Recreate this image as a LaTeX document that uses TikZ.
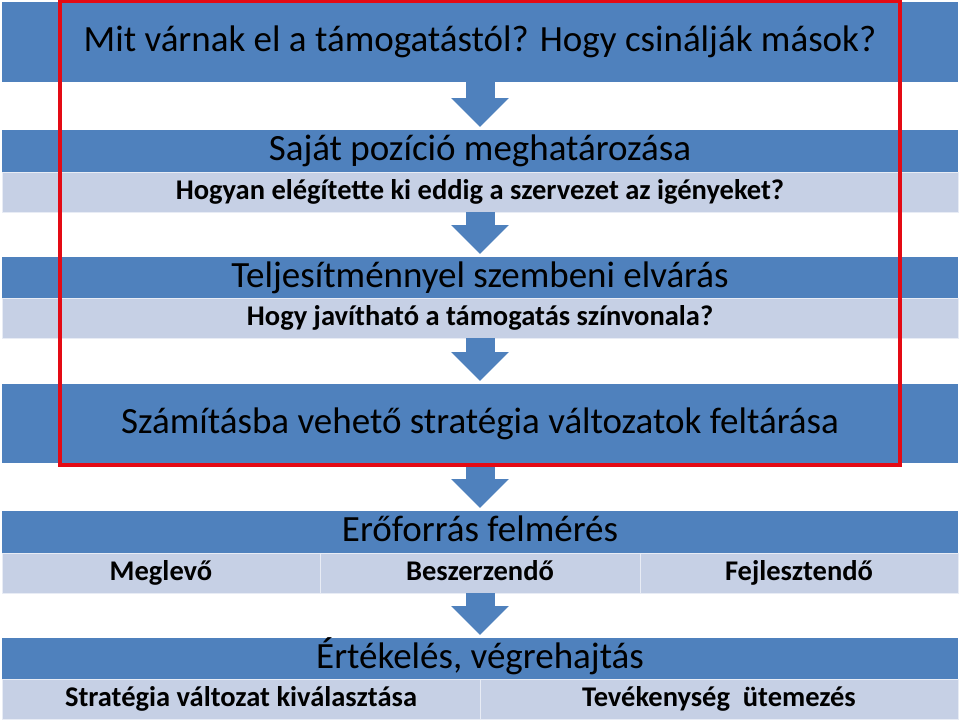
\documentclass[tikz,border=0pt]{standalone}
\usepackage{fontspec}
\setmainfont{Carlito}
\usetikzlibrary{positioning,arrows.meta}

\definecolor{barblue}{RGB}{79,129,189}
\definecolor{subblue}{RGB}{198,208,229}
\definecolor{frame}{RGB}{228,10,20}

\tikzset{
  bar/.style={fill=barblue, anchor=north west, inner sep=0pt, outer sep=0pt, minimum width=956pt, text=black, text height=26pt, text depth=7pt},
  subbar/.style={fill=subblue, draw=white!60!subblue, line width=0.8pt, anchor=north west, inner sep=0pt, outer sep=0pt, minimum height=40pt, text=black, text height=20pt, text depth=6pt, font=\bfseries\fontsize{28.5}{32}\selectfont},
  downarrow/.style={draw=barblue, line width=29pt, -{Triangle[width=56pt,length=29pt]}, shorten >=3pt},
  head/.style={font=\fontsize{37}{40}\selectfont}
}

\begin{document}
\begin{tikzpicture}[x=1pt,y=-1pt]
\useasboundingbox (0,0) rectangle (960,720);

%Bars
\node[bar, head, minimum height=80pt] (expect) at (2,2) {Mit várnak el a támogatástól? Hogy csinálják mások?};

\node[bar, head, minimum height=42pt] (own) at (2,130) {Saját pozíció meghatározása};
\node[subbar, minimum width=956pt] (ownq) at (2,172) {Hogyan elégítette ki eddig a szervezet az igényeket?};

\node[bar, head, minimum height=41pt] (perf) at (2,257) {Teljesítménnyel szembeni elvárás};
\node[subbar, minimum width=956pt] (perfq) at (2,298) {Hogy javítható a támogatás színvonala?};

\node[bar, head, minimum height=79pt] (strat) at (2,384) {Számításba vehető stratégia változatok feltárása};

\node[bar, head, minimum height=42pt] (res) at (2,511) {Erőforrás felmérés};
\node[subbar, minimum width=318pt] (have) at (2,553) {Meglevő};
\node[subbar, minimum width=320pt] (buy) at (320,553) {Beszerzendő};
\node[subbar, minimum width=318pt] (dev) at (640,553) {Fejlesztendő};

\node[bar, head, minimum height=41pt] (eval) at (2,638) {Értékelés, végrehajtás};
\node[subbar, minimum width=478pt] (choose) at (2,679) {Stratégia változat kiválasztása};
\node[subbar, minimum width=478pt] (plan) at (480,679) {Tevékenység~ ütemezés};

%Arrows
\draw[downarrow] (expect.south) -- (own.north);
\draw[downarrow] (ownq.south) -- (perf.north);
\draw[downarrow] (perfq.south) -- (strat.north);
\draw[downarrow] (strat.south) -- (res.north);
\draw[downarrow] (res.south |- buy.south) -- (eval.north);

%Frame
\draw[frame, line width=4pt] (60,1) rectangle (900,465);

\end{tikzpicture}
\end{document}
